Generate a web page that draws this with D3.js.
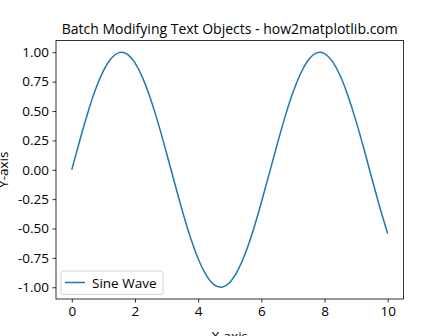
<!DOCTYPE html>
<html>
<head>
<meta charset="utf-8">
<script src="https://cdn.jsdelivr.net/npm/d3@7"></script>
<style>
  body { margin: 0; background: #fff; }
  svg { display: block; font-family: "Open Sans", "Noto Sans", sans-serif; }
</style>
</head>
<body>
<div id="chart"></div>
<script>
// values
var xValues = [0, 0.25, 0.5, 0.75, 1, 1.25, 1.5, 1.75, 2, 2.25, 2.5, 2.75, 3, 3.25, 3.5, 3.75,
               4, 4.25, 4.5, 4.75, 5, 5.25, 5.5, 5.75, 6, 6.25, 6.5, 6.75, 7, 7.25, 7.5, 7.75,
               8, 8.25, 8.5, 8.75, 9, 9.25, 9.5, 9.75, 10];
var yValues = [0, 0.247, 0.479, 0.682, 0.841, 0.949, 0.997, 0.984, 0.909, 0.778, 0.598, 0.382, 0.141, -0.108, -0.351, -0.572,
               -0.757, -0.895, -0.978, -0.999, -0.959, -0.859, -0.706, -0.508, -0.279, -0.033, 0.215, 0.450, 0.657, 0.823, 0.938, 0.995,
               0.989, 0.922, 0.798, 0.624, 0.412, 0.174, -0.075, -0.319, -0.544];
var xTicks = [0, 2, 4, 6, 8, 10];
var yTicks = [-1, -0.75, -0.5, -0.25, 0, 0.25, 0.5, 0.75, 1];
var seriesName = "Sine Wave";
var title = "Batch Modifying Text Objects - how2matplotlib.com";

var width = 448, height = 336;
var plot = {left: 56, top: 40.5, right: 403.5, bottom: 299};
var lineColor = "#1f77b4";

var data = xValues.map(function(x, i) { return {x: x, y: yValues[i]}; });

var svg = d3.select("#chart").append("svg")
    .attr("width", width)
    .attr("height", height);

var x = d3.scaleLinear().domain([-0.5, 10.5]).range([plot.left, plot.right]);
var y = d3.scaleLinear().domain([-1.1, 1.1]).range([plot.bottom, plot.top]);

// line
var line = d3.line()
    .x(function(d) { return x(d.x); })
    .y(function(d) { return y(d.y); })
    .curve(d3.curveNatural);

svg.append("path")
    .datum(data)
    .attr("fill", "none")
    .attr("stroke", lineColor)
    .attr("stroke-width", 1.5)
    .attr("d", line);

// axes
var xAxis = svg.append("g")
    .attr("transform", "translate(0," + plot.bottom + ")")
    .call(d3.axisBottom(x).tickValues(xTicks).tickSize(3.5).tickPadding(3.5).tickFormat(d3.format("d")));
var yAxis = svg.append("g")
    .attr("transform", "translate(" + plot.left + ",0)")
    .call(d3.axisLeft(y).tickValues(yTicks).tickSize(3.5).tickPadding(3.5).tickFormat(d3.format(".2f")));

[xAxis, yAxis].forEach(function(a) {
    a.select(".domain").remove();
    a.selectAll("line").attr("stroke", "#000").attr("stroke-width", 0.8);
    a.selectAll("text").attr("fill", "#000").style("font-size", "13.5px")
        .style("font-family", "'Open Sans', 'Noto Sans', sans-serif");
});
yAxis.selectAll("text").text(function(d) { return d3.format(".2f")(d).replace("−", "-"); });

// frame
svg.append("rect")
    .attr("x", plot.left)
    .attr("y", plot.top)
    .attr("width", plot.right - plot.left)
    .attr("height", plot.bottom - plot.top)
    .attr("fill", "none")
    .attr("stroke", "#000")
    .attr("stroke-width", 0.8);

// title and labels
svg.append("text")
    .attr("x", (plot.left + plot.right) / 2)
    .attr("y", 34)
    .attr("text-anchor", "middle")
    .style("font-size", "14px")
    .text(title);

svg.append("text")
    .attr("x", (plot.left + plot.right) / 2)
    .attr("y", 341)
    .attr("text-anchor", "middle")
    .style("font-size", "13.5px")
    .text("X-axis");

svg.append("text")
    .attr("transform", "translate(8," + (plot.top + plot.bottom) / 2 + ") rotate(-90)")
    .attr("text-anchor", "middle")
    .style("font-size", "13.5px")
    .text("Y-axis");

// legend
var legend = svg.append("g").attr("transform", "translate(61,271)");
legend.append("rect")
    .attr("width", 102)
    .attr("height", 23.5)
    .attr("rx", 2)
    .attr("fill", "#fff")
    .attr("fill-opacity", 0.8)
    .attr("stroke", "#ccc")
    .attr("stroke-width", 0.8);
legend.append("line")
    .attr("x1", 4).attr("x2", 24)
    .attr("y1", 11.5).attr("y2", 11.5)
    .attr("stroke", lineColor)
    .attr("stroke-width", 1.5);
legend.append("text")
    .attr("x", 31)
    .attr("y", 16.5)
    .style("font-size", "13.5px")
    .text(seriesName);
</script>
</body>
</html>
